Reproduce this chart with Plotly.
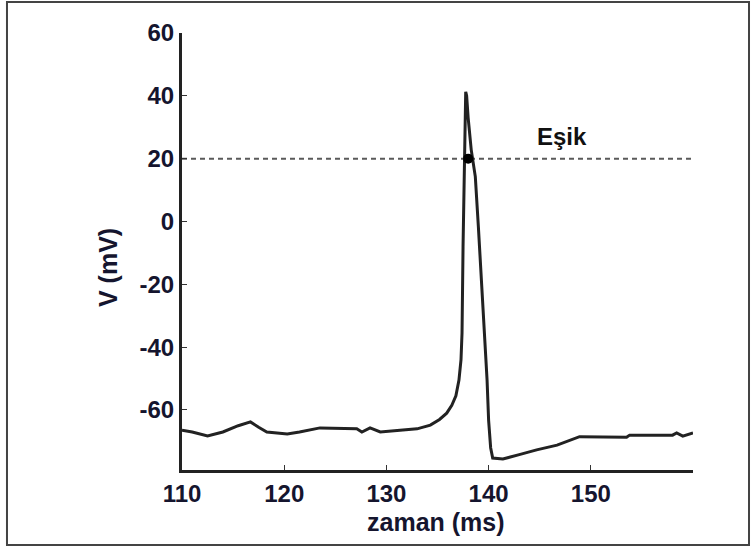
import plotly.graph_objects as go

# Membrane potential trace (time in ms, voltage in mV)
time_ms = [110.0, 111.0, 112.5, 114.0, 115.5, 116.7, 117.5, 118.3, 120.3, 121.5,
           123.5, 127.1, 127.6, 128.4, 129.4, 131.6, 133.0, 134.3, 135.2, 135.9,
           136.4, 136.8, 137.1, 137.3, 137.4, 137.5, 137.6, 137.7, 137.76, 137.85,
           138.0, 138.3, 138.7, 139.0, 139.3, 139.6, 139.85, 140.0, 140.2, 140.4,
           141.4, 143.0, 144.7, 146.7, 147.8, 148.9, 153.5, 153.8, 158.0, 158.4,
           159.0, 160.0]
voltage_mv = [-66.4, -67.0, -68.3, -67.0, -65.0, -63.8, -65.5, -67.0, -67.6, -67.0,
              -65.7, -66.0, -67.0, -65.7, -67.0, -66.4, -66.0, -64.8, -63.0, -61.0,
              -58.5, -55.5, -50.5, -44.0, -35.5, -8.0, 10.0, 35.0, 41.3, 40.0,
              33.0, 22.8, 14.3, -1.7, -17.6, -35.5, -50.5, -63.2, -72.0, -75.3,
              -75.6, -74.2, -72.7, -71.2, -69.8, -68.5, -68.7, -68.0, -68.0, -67.3,
              -68.3, -67.3]

threshold_mv = 20
threshold_time = [110, 160]
crossing_time = [138.0]
crossing_v = [20]
threshold_label = "Eşik"

x_tickvals = [110, 120, 130, 140, 150, 160]
x_ticktext = ["110", "120", "130", "140", "150", ""]
y_tickvals = [-60, -40, -20, 0, 20, 40, 60]
y_ticktext = ["-60", "-40", "-20", "0", "20", "40", "60"]

x_title = "zaman (ms)"
y_title = "V (mV)"

FONT = "Arial, 'Liberation Sans', sans-serif"
TXT = "#15152e"

fig = go.Figure()
fig.add_trace(go.Scatter(x=threshold_time, y=[threshold_mv] * len(threshold_time),
                         mode="lines", line=dict(color="#5a5a5a", width=2, dash="5px,4px"),
                         hoverinfo="skip", showlegend=False))
fig.add_trace(go.Scatter(x=time_ms, y=voltage_mv, mode="lines",
                         line=dict(color="#222222", width=3), showlegend=False))
fig.add_trace(go.Scatter(x=crossing_time, y=crossing_v, mode="markers",
                         marker=dict(color="#000000", size=10), showlegend=False))

fig.add_annotation(x=147.2, y=27.0, xref="x", yref="y", text=f"<b>{threshold_label}</b>",
                   showarrow=False, font=dict(family=FONT, size=24, color="#111111"))
fig.add_annotation(x=0.497, y=-0.119, xref="paper", yref="paper", text=f"<b>{x_title}</b>",
                   showarrow=False, xanchor="center", yanchor="middle",
                   font=dict(family=FONT, size=25, color=TXT))
fig.add_annotation(x=-0.1448, y=0.4622, xref="paper", yref="paper", text=f"<b>{y_title}</b>",
                   showarrow=False, textangle=-90, xanchor="center", yanchor="middle",
                   font=dict(family=FONT, size=25, color=TXT))

# outer frame
fig.add_shape(type="rect", xref="paper", yref="paper",
              x0=-0.3425, x1=1.1096, y0=-0.1716, y1=1.0709,
              line=dict(color="#444444", width=2), fillcolor="rgba(0,0,0,0)")

tickfont = dict(family=FONT, size=24, color=TXT, weight="bold")

fig.update_layout(
    width=753, height=546,
    margin=dict(l=182, r=60, t=33, b=76),
    paper_bgcolor="white", plot_bgcolor="white",
    font=dict(family=FONT, size=24, color=TXT),
    xaxis=dict(range=[110, 160], tickvals=x_tickvals, ticktext=x_ticktext,
               showgrid=False, zeroline=False, showline=True, linecolor="#222222",
               linewidth=3, ticks="inside", ticklen=5, tickcolor="#333333", tickwidth=1,
               tickfont=tickfont),
    yaxis=dict(range=[-79.1, 60], tickvals=y_tickvals, ticktext=y_ticktext,
               showgrid=False, zeroline=False, showline=True, linecolor="#222222",
               linewidth=3, ticks="inside", ticklen=5, tickcolor="#333333", tickwidth=1,
               tickfont=tickfont),
)

fig.write_html("out.html")
